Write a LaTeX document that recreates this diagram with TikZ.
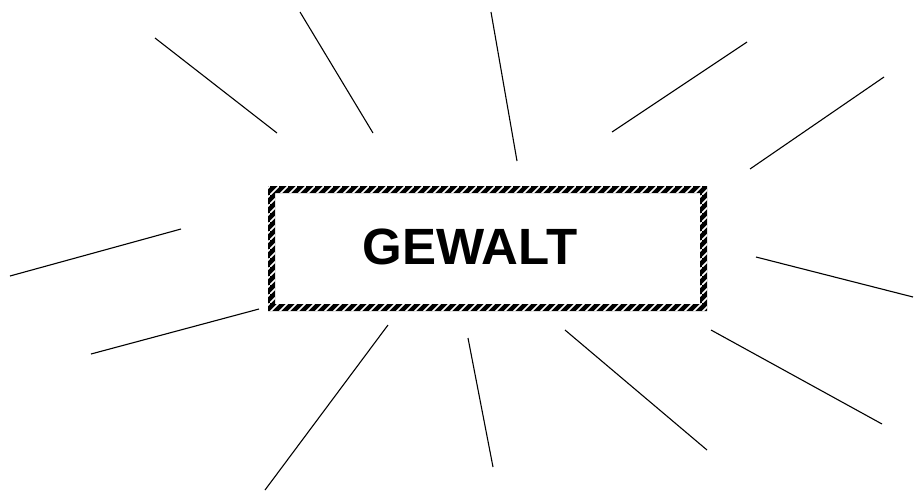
\documentclass[tikz,border=0pt]{standalone}
\usepackage{fontspec}
\setmainfont{Liberation Sans}
\usetikzlibrary{patterns}
\pgfdeclarepatternformonly{widestripes}{\pgfpointorigin}{\pgfpoint{9pt}{9pt}}{\pgfpoint{9pt}{9pt}}{%
  \pgfsetlinewidth{1.8pt}%
  \pgfpathmoveto{\pgfpoint{-1pt}{-1pt}}%
  \pgfpathlineto{\pgfpoint{10pt}{10pt}}%
  \pgfusepath{stroke}}
\begin{document}
\begin{tikzpicture}[x=1pt,y=-1pt,
  ray/.style={draw=black,line width=1.1pt},
  frame/.style={even odd rule,fill=black},
  framepat/.style={even odd rule,pattern=widestripes,pattern color=white}]
\useasboundingbox (0,0) rectangle (916,491);
% box frame
\path[frame] (268,186) rectangle (707,311) (275,193) rectangle (700,304);
\path[framepat] (268,186) rectangle (707,311) (275,193) rectangle (700,304);
\node[font=\bfseries\fontsize{51}{60}\selectfont,inner sep=0pt] (txt) at (470,247) {GEWALT};
% rays
\coordinate (a1) at (155,38);  \coordinate (b1) at (277,133);
\coordinate (a2) at (300,12);  \coordinate (b2) at (373,133);
\coordinate (a3) at (491,12);  \coordinate (b3) at (517,161);
\coordinate (a4) at (612,132); \coordinate (b4) at (747,42);
\coordinate (a5) at (750,169); \coordinate (b5) at (884,77);
\coordinate (a6) at (10,276);  \coordinate (b6) at (181,229);
\coordinate (a7) at (91,354);  \coordinate (b7) at (259,309);
\coordinate (a8) at (265,490); \coordinate (b8) at (388,325);
\coordinate (a9) at (468,338); \coordinate (b9) at (493,467);
\coordinate (a10) at (565,330); \coordinate (b10) at (707,450);
\coordinate (a11) at (711,330); \coordinate (b11) at (882,424);
\coordinate (a12) at (756,257); \coordinate (b12) at (913,297);
\foreach \i in {1,...,12} {\draw[ray] (a\i) -- (b\i);}
\end{tikzpicture}
\end{document}
